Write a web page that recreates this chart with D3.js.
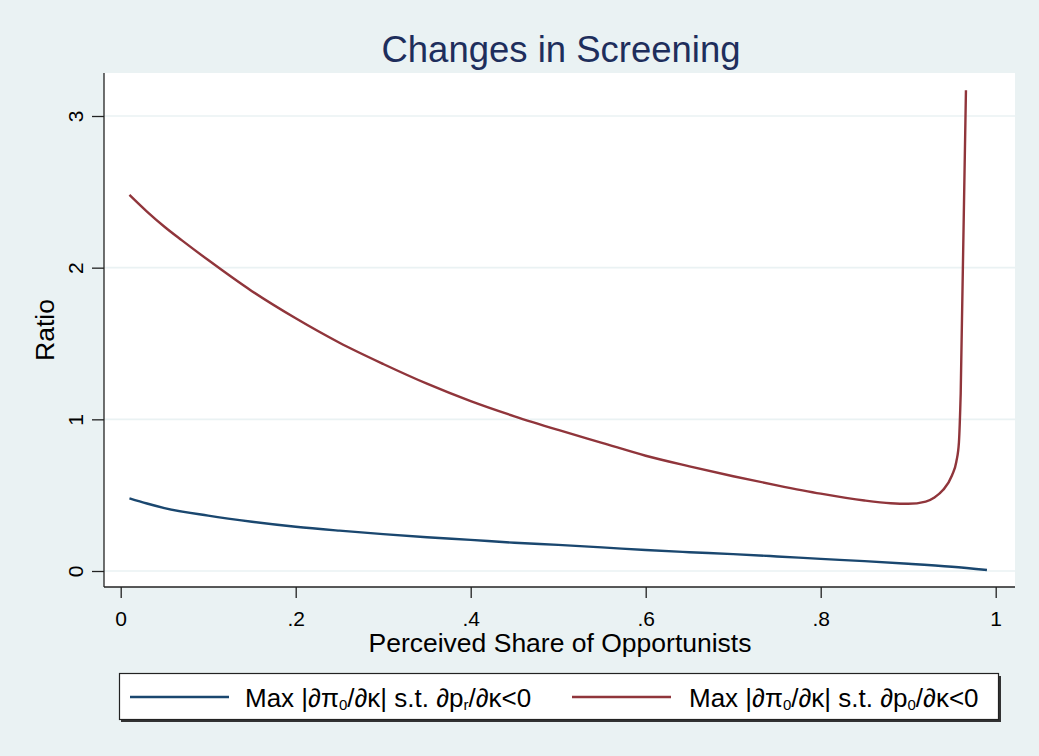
<!DOCTYPE html>
<html>
<head>
<meta charset="utf-8">
<script src="https://cdn.jsdelivr.net/npm/d3@7"></script>
<style>
  body { margin: 0; background: #eaf2f3; }
  svg { display: block; font-family: "Liberation Sans", Arial, sans-serif; }
</style>
</head>
<body>
<svg id="chart"></svg>
<script>
// data
const xTicks = [0, 0.2, 0.4, 0.6, 0.8, 1];
const yTicks = [0, 1, 2, 3];

const blueX = [0.01, 0.03, 0.05, 0.1, 0.15, 0.2, 0.25, 0.3, 0.35, 0.4, 0.45, 0.5, 0.55, 0.6, 0.65, 0.7, 0.75, 0.8, 0.85, 0.9, 0.95, 0.99];
const blueY = [0.479, 0.445, 0.415, 0.365, 0.325, 0.292, 0.266, 0.243, 0.223, 0.205, 0.186, 0.172, 0.156, 0.138, 0.124, 0.111, 0.096, 0.080, 0.065, 0.048, 0.028, 0.007];

const redX = [0.01, 0.03, 0.05, 0.07, 0.1, 0.15, 0.2, 0.25, 0.3, 0.35, 0.4, 0.45, 0.5, 0.55, 0.6, 0.65, 0.7, 0.75, 0.8, 0.85, 0.88, 0.9, 0.92, 0.93, 0.94, 0.95, 0.955, 0.958, 0.96, 0.966];
const redY = [2.48, 2.37, 2.27, 2.18, 2.05, 1.845, 1.666, 1.505, 1.365, 1.235, 1.12, 1.02, 0.93, 0.845, 0.76, 0.69, 0.625, 0.565, 0.51, 0.465, 0.447, 0.443, 0.458, 0.485, 0.535, 0.63, 0.72, 0.85, 1.17, 3.17];

const W = 1039, H = 756;
const plot = { left: 104, right: 1015, top: 73, bottom: 587 };

const svg = d3.select("#chart").attr("width", W).attr("height", H);

svg.append("rect").attr("width", W).attr("height", H).attr("fill", "#eaf2f3");

// plot region
svg.append("rect")
  .attr("x", plot.left).attr("y", plot.top)
  .attr("width", plot.right - plot.left).attr("height", plot.bottom - plot.top)
  .attr("fill", "#ffffff");

const x = d3.scaleLinear().domain([0, 1]).range([120.7, 995.7]);
const y = d3.scaleLinear().domain([0, 3]).range([571, 116]);

// gridlines
svg.append("g").selectAll("line")
  .data(yTicks)
  .enter().append("line")
    .attr("x1", plot.left).attr("x2", plot.right)
    .attr("y1", d => y(d)).attr("y2", d => y(d))
    .attr("stroke", "#eaf2f3").attr("stroke-width", 1.6);

// stata style labels: 0 .2 .4 ... 1
const fmt = d => Number.isInteger(d) ? String(d) : String(d).replace(/^0/, "");
const font = "Liberation Sans, Arial, sans-serif";

// x axis
const xAxis = svg.append("g")
  .attr("transform", `translate(0,${plot.bottom})`)
  .call(d3.axisBottom(x).tickValues(xTicks).tickFormat(fmt).tickSize(11).tickPadding(13).tickSizeOuter(0));
xAxis.select(".domain").attr("d", `M${plot.left},0H${plot.right}`).attr("stroke", "#222").attr("stroke-width", 1.3);
xAxis.selectAll(".tick line").attr("stroke", "#222").attr("stroke-width", 1.3);
xAxis.selectAll(".tick text").attr("font-size", 21).attr("fill", "#000").attr("font-family", font);

// y axis
const yAxis = svg.append("g")
  .attr("transform", `translate(${plot.left},0)`)
  .call(d3.axisLeft(y).tickValues(yTicks).tickFormat(fmt).tickSize(12).tickSizeOuter(0));
yAxis.select(".domain").attr("d", `M0,${plot.top}V${plot.bottom}`).attr("stroke", "#222").attr("stroke-width", 1.3);
yAxis.selectAll(".tick line").attr("stroke", "#222").attr("stroke-width", 1.3);
yAxis.selectAll(".tick text")
  .attr("x", null).attr("dy", null)
  .attr("transform", "translate(-21,0) rotate(-90)")
  .attr("text-anchor", "middle")
  .attr("font-size", 21).attr("fill", "#000").attr("font-family", font);

// lines
const line = d3.line().x(d => x(d[0])).y(d => y(d[1])).curve(d3.curveMonotoneX);
svg.append("path")
  .datum(blueX.map((v, i) => [v, blueY[i]]))
  .attr("d", line).attr("fill", "none")
  .attr("stroke", "#1a476f").attr("stroke-width", 2.4);
svg.append("path")
  .datum(redX.map((v, i) => [v, redY[i]]))
  .attr("d", line).attr("fill", "none")
  .attr("stroke", "#90353b").attr("stroke-width", 2.4);

// title and axis titles
svg.append("text")
  .attr("x", 561).attr("y", 61.5).attr("text-anchor", "middle")
  .attr("font-size", 36.5).attr("fill", "#1e2e5c")
  .text("Changes in Screening");

svg.append("text")
  .attr("x", 560).attr("y", 652).attr("text-anchor", "middle")
  .attr("font-size", 26.5).attr("fill", "#000")
  .text("Perceived Share of Opportunists");

svg.append("text")
  .attr("transform", "translate(54,330) rotate(-90)")
  .attr("text-anchor", "middle")
  .attr("font-size", 26.5).attr("fill", "#000")
  .text("Ratio");

// legend
const lg = svg.append("g");
lg.append("rect")
  .attr("x", 121).attr("y", 676).attr("width", 880).attr("height", 46)
  .attr("fill", "#333");
lg.append("rect")
  .attr("x", 119.5).attr("y", 673.5).attr("width", 879).attr("height", 46)
  .attr("fill", "#fff").attr("stroke", "#222").attr("stroke-width", 1.2);

const legendItems = [
  { color: "#1a476f", x0: 130, tx: 245, sub2: "r" },
  { color: "#90353b", x0: 572, tx: 689, sub2: "0" }
];

legendItems.forEach(it => {
  lg.append("line")
    .attr("x1", it.x0).attr("x2", it.x0 + 99)
    .attr("y1", 697).attr("y2", 697)
    .attr("stroke", it.color).attr("stroke-width", 2.4);
  const t = lg.append("text")
    .attr("x", it.tx).attr("y", 707)
    .attr("font-size", 26).attr("fill", "#000");
  t.append("tspan").text("Max |\u2202\u03c0");
  t.append("tspan").attr("font-size", 15).attr("dy", 3).text("0");
  t.append("tspan").attr("dy", -3).text("/\u2202\u03ba| s.t. \u2202p");
  t.append("tspan").attr("font-size", 15).attr("dy", 3).text(it.sub2);
  t.append("tspan").attr("dy", -3).text("/\u2202\u03ba<0");
});
</script>
</body>
</html>
